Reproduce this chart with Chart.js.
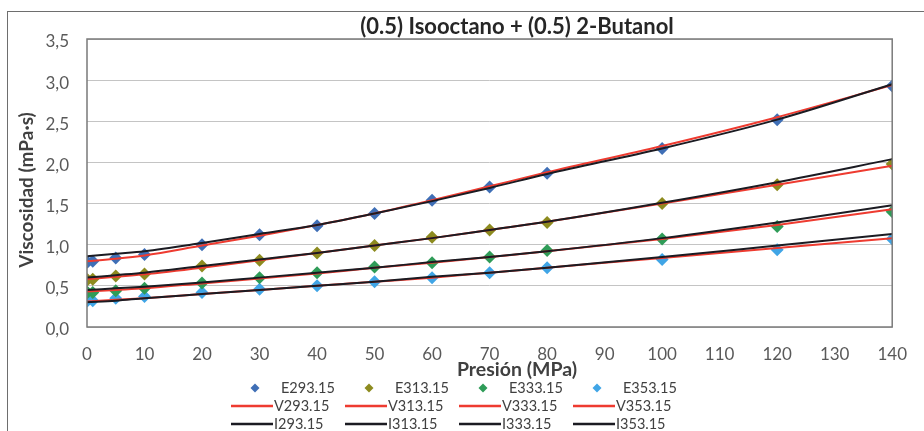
<!DOCTYPE html>
<html>
<head>
<meta charset="utf-8">
<script src="https://cdn.jsdelivr.net/npm/chart.js@4.4.1/dist/chart.umd.min.js"></script>
<style>
  html, body { margin: 0; padding: 0; background: #fff; overflow: hidden; }
  #wrap { position: relative; width: 924px; height: 431px; overflow: hidden; }
  #frame { position: absolute; left: 7px; top: 11px; width: 1000px; height: 1000px;
           border-left: 1.5px solid #6e6e6e; border-top: 1.5px solid #6e6e6e; }
  canvas { position: absolute; left: 0; top: 0; }
</style>
</head>
<body>
<div id="wrap">
  <div id="frame"></div>
  <canvas id="c" width="924" height="431"></canvas>
</div>
<script>
// Pressures (MPa)
const pressureExp   = [0.1, 1, 5, 10, 20, 30, 40, 50, 60, 70, 80, 100, 120, 140];
const pressureCurve = [0, 5, 10, 20, 30, 40, 50, 60, 70, 80, 100, 120, 140];
const temperatures  = ['293.15', '313.15', '333.15', '353.15'];

// Experimental viscosities (mPa·s)
const exp293 = [0.79, 0.80, 0.84, 0.88, 1.00, 1.12, 1.23, 1.38, 1.54, 1.70, 1.87, 2.17, 2.52, 2.93];
const exp313 = [0.575, 0.58, 0.62, 0.645, 0.74, 0.81, 0.90, 0.99, 1.09, 1.18, 1.27, 1.50, 1.73, 1.98];
const exp333 = [0.42, 0.42, 0.44, 0.47, 0.535, 0.60, 0.66, 0.73, 0.78, 0.85, 0.93, 1.07, 1.22, 1.40];
const exp353 = [0.32, 0.32, 0.35, 0.37, 0.42, 0.46, 0.50, 0.55, 0.60, 0.66, 0.72, 0.82, 0.94, 1.07];

// Model V curves
const v293 = [0.80, 0.83, 0.87, 0.99, 1.11, 1.24, 1.38, 1.54, 1.71, 1.88, 2.20, 2.55, 2.94];
const v313 = [0.58, 0.61, 0.64, 0.72, 0.81, 0.90, 0.99, 1.08, 1.18, 1.28, 1.50, 1.73, 1.96];
const v333 = [0.43, 0.45, 0.47, 0.53, 0.59, 0.65, 0.72, 0.78, 0.85, 0.92, 1.07, 1.24, 1.43];
const v353 = [0.31, 0.33, 0.35, 0.40, 0.45, 0.50, 0.55, 0.60, 0.66, 0.72, 0.84, 0.96, 1.08];

// Model I curves
const i293 = [0.86, 0.89, 0.92, 1.02, 1.13, 1.24, 1.38, 1.53, 1.69, 1.86, 2.17, 2.52, 2.95];
const i313 = [0.60, 0.63, 0.66, 0.74, 0.82, 0.90, 0.99, 1.08, 1.18, 1.28, 1.51, 1.76, 2.04];
const i333 = [0.45, 0.47, 0.49, 0.54, 0.60, 0.66, 0.72, 0.79, 0.85, 0.92, 1.08, 1.27, 1.48];
const i353 = [0.30, 0.32, 0.35, 0.40, 0.45, 0.50, 0.55, 0.61, 0.66, 0.72, 0.85, 0.99, 1.13];

const xTicks = [0, 10, 20, 30, 40, 50, 60, 70, 80, 90, 100, 110, 120, 130, 140];
const yTicks = [0, 0.5, 1.0, 1.5, 2.0, 2.5, 3.0, 3.5];

const markerColors = ['#3f6fb6', '#8d8b1f', '#2f9c58', '#40a5e6'];
const redLine = '#ee3b30';
const darkLine = '#1b1b22';

const FONT = 'Lato, "Liberation Sans", sans-serif';

const toPts = (xs, ys) => xs.map((x, k) => ({ x: x, y: ys[k] }));

const expSets = [exp293, exp313, exp333, exp353];
const vSets = [v293, v313, v333, v353];
const iSets = [i293, i313, i333, i353];

const datasets = [];
temperatures.forEach((t, k) => {
  datasets.push({
    label: 'E' + t, kind: 'E', col: k,
    data: toPts(pressureExp, expSets[k]),
    showLine: false, pointStyle: 'rectRot', pointRadius: 6.5,
    backgroundColor: markerColors[k], borderColor: markerColors[k], borderWidth: 0,
    order: 3
  });
});
temperatures.forEach((t, k) => {
  datasets.push({
    label: 'V' + t, kind: 'V', col: k,
    data: toPts(pressureCurve, vSets[k]),
    showLine: true, pointRadius: 0, borderColor: redLine, borderWidth: 2,
    cubicInterpolationMode: 'monotone', order: 2
  });
});
temperatures.forEach((t, k) => {
  datasets.push({
    label: 'I' + t, kind: 'I', col: k,
    data: toPts(pressureCurve, iSets[k]),
    showLine: true, pointRadius: 0, borderColor: darkLine, borderWidth: 2,
    cubicInterpolationMode: 'monotone', order: 1
  });
});

// Frame of the plot area, titles and the 3x4 legend grid
const decorPlugin = {
  id: 'decor',
  afterDraw(chart) {
    const ctx = chart.ctx;
    const a = chart.chartArea;
    ctx.save();
    ctx.strokeStyle = '#7a7a7a';
    ctx.lineWidth = 1.5;
    ctx.strokeRect(a.left, a.top, a.right - a.left, a.bottom - a.top);

    ctx.fillStyle = '#262626';
    ctx.textAlign = 'center';
    ctx.textBaseline = 'middle';
    ctx.font = 'bold 22px ' + FONT;
    ctx.fillText('(0.5) Isooctano + (0.5) 2-Butanol', 517, 27);

    ctx.font = 'bold 19.5px ' + FONT;
    ctx.fillStyle = '#404040';
    ctx.fillText('Presión (MPa)', 517, 370);

    ctx.save();
    ctx.translate(27, 190);
    ctx.rotate(-Math.PI / 2);
    ctx.font = 'bold 19px ' + FONT;
    ctx.fillText('Viscosidad (mPa·s)', 0, 0);
    ctx.restore();

    // legend
    const rowY = { E: 388, V: 406, I: 424 };
    ctx.font = '14.5px ' + FONT;
    ctx.textAlign = 'left';
    chart.data.datasets.forEach(ds => {
      const x0 = 231 + ds.col * 114;
      const y = rowY[ds.kind];
      if (ds.kind === 'E') {
        ctx.fillStyle = ds.backgroundColor;
        ctx.beginPath();
        ctx.moveTo(x0 + 24, y - 4.5);
        ctx.lineTo(x0 + 28.5, y);
        ctx.lineTo(x0 + 24, y + 4.5);
        ctx.lineTo(x0 + 19.5, y);
        ctx.closePath();
        ctx.fill();
        ctx.fillStyle = '#404040';
        ctx.fillText(ds.label, x0 + 50, y);
      } else {
        ctx.strokeStyle = ds.borderColor;
        ctx.lineWidth = 2.5;
        ctx.beginPath();
        ctx.moveTo(x0, y);
        ctx.lineTo(x0 + 42, y);
        ctx.stroke();
        ctx.fillStyle = '#404040';
        ctx.fillText(ds.label, x0 + 43, y);
      }
    });
    ctx.restore();
  }
};

new Chart(document.getElementById('c'), {
  type: 'scatter',
  data: { datasets: datasets },
  options: {
    responsive: false,
    animation: false,
    devicePixelRatio: 1,
    layout: { padding: { left: 0, top: 39, right: 21, bottom: 0 } },
    plugins: { legend: { display: false }, tooltip: { enabled: false }, title: { display: false } },
    scales: {
      x: {
        type: 'linear', min: 0, max: 140,
        afterFit(s) { s.height = 104; },
        afterBuildTicks(s) { s.ticks = xTicks.map(v => ({ value: v })); },
        grid: { display: false, drawTicks: false },
        border: { display: false },
        ticks: { padding: 17, color: '#595959', font: { family: FONT, size: 17 }, maxRotation: 0 }
      },
      y: {
        type: 'linear', min: 0, max: 3.5,
        afterFit(s) { s.width = 87; },
        afterBuildTicks(s) { s.ticks = yTicks.map(v => ({ value: v })); },
        grid: { color: '#c4c4c4', lineWidth: 1, drawTicks: false },
        border: { display: false },
        ticks: {
          padding: 18, labelOffset: 3, color: '#595959', font: { family: FONT, size: 17 },
          callback: v => v.toFixed(1).replace('.', ',')
        }
      }
    }
  },
  plugins: [decorPlugin]
});
</script>
</body>
</html>
